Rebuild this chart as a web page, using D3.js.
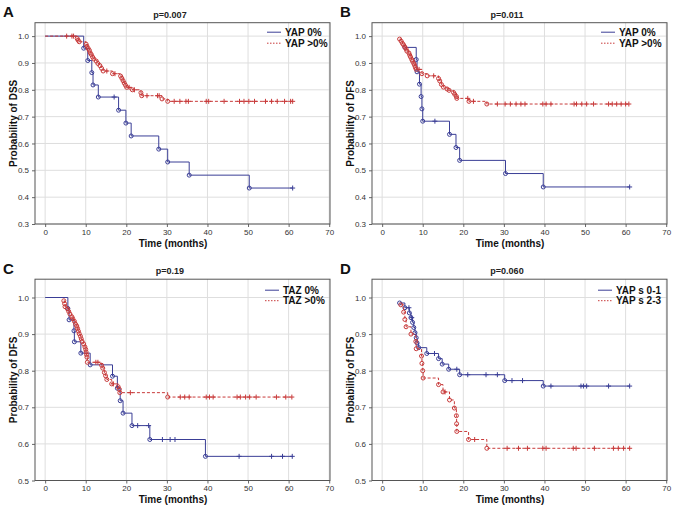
<!DOCTYPE html>
<html><head><meta charset="utf-8">
<script src="https://cdn.jsdelivr.net/npm/d3@7"></script>
<style>body{margin:0;background:#fff} svg{display:block;font-family:"Liberation Sans",Arial,sans-serif}</style>
</head><body><svg width="677" height="509"></svg>
<script>
const BLUE = "#3a3e96", RED = "#c83a3a";
const xTicks = [0,10,20,30,40,50,60,70];
const yTicksTop = [0.3,0.4,0.5,0.6,0.7,0.8,0.9,1.0];
const yTicksBottom = [0.5,0.6,0.7,0.8,0.9,1.0];

// Panel A (DSS, YAP)
const aBlueT = [9.5,10.5,11.5,11.8,13.1,18.1,19.9,21.2,28.0,30.2,35.5,50.3];
const aBlueV = [0.955,0.909,0.864,0.818,0.773,0.724,0.676,0.628,0.579,0.531,0.482,0.434];
const aBlueC = [17.0,61.0];
const aRedT = [7.9,8.1,8.4,10.1,10.3,10.6,10.9,11.1,11.4,11.7,12.0,12.6,13.0,13.5,13.9,14.3,16.6,18.6,18.9,19.2,19.5,19.8,20.1,21.5,23.6,23.8,28.8,30.2];
const aRedV = [0.991,0.985,0.979,0.970,0.962,0.954,0.947,0.938,0.931,0.922,0.915,0.907,0.898,0.890,0.880,0.870,0.860,0.851,0.843,0.834,0.825,0.817,0.809,0.800,0.789,0.778,0.766,0.757];
const aRedC = [5.3,6.6,7.0,15.2,17.2,20.7,22.0,25.1,27.7,28.1,31.8,33.2,34.7,35.3,39.7,40.3,44.1,47.9,49.0,50.2,51.6,54.3,55.8,57.2,59.0,60.5,61.0];

// Panel B (DFS, YAP)
const bBlueT = [5.6,8.4,8.6,9.2,9.6,9.8,10.0,16.6,18.2,19.1,30.4,39.7];
const bBlueV = [0.958,0.913,0.867,0.821,0.775,0.729,0.683,0.634,0.585,0.537,0.488,0.438];
const bBlueC = [13.0,61.0];
const bRedT = [4.3,4.7,5.0,5.3,5.6,5.9,6.1,6.6,6.8,7.0,7.3,7.5,7.8,8.0,8.2,8.4,9.8,11.1,13.9,14.2,14.6,15.1,16.0,16.5,17.6,17.9,18.3,18.4,21.4,25.8];
const bRedV = [0.989,0.981,0.973,0.967,0.959,0.952,0.944,0.937,0.929,0.922,0.913,0.906,0.898,0.891,0.883,0.876,0.860,0.852,0.842,0.833,0.820,0.810,0.803,0.798,0.790,0.783,0.775,0.768,0.757,0.747];
const bRedC = [9.1,12.7,21.1,22.5,28.4,30.3,31.6,33.0,34.2,35.2,39.6,40.4,41.6,47.3,47.9,49.2,50.4,52.1,55.8,56.7,57.8,58.9,60.0,60.8];

// Panel C (DFS, TAZ)
const cBlueT = [5.6,5.9,7.1,7.2,8.8,11.1,16.6,17.8,18.5,19.2,21.4,25.8,39.5];
const cBlueV = [0.970,0.939,0.909,0.879,0.848,0.816,0.785,0.752,0.718,0.684,0.650,0.612,0.566];
const cBlueC = [22.8,25.5,28.9,30.8,32.0,47.8,55.8,58.5,60.9];
const cRedT = [4.6,4.8,4.9,5.5,5.8,6.1,6.6,6.8,7.2,7.5,7.8,8.0,8.2,8.4,8.7,8.9,9.1,9.5,9.8,10.0,10.1,10.2,10.3,10.4,13.9,14.2,14.6,14.9,15.2,16.4,18.0,18.3,18.4,30.2];
const cRedV = [0.991,0.983,0.975,0.969,0.962,0.955,0.947,0.942,0.935,0.927,0.922,0.915,0.908,0.901,0.894,0.887,0.880,0.873,0.865,0.858,0.851,0.844,0.837,0.823,0.815,0.807,0.795,0.786,0.776,0.764,0.756,0.749,0.740,0.728];
const cRedC = [12.5,13.0,16.8,21.0,33.3,34.4,35.5,39.7,40.5,41.4,47.3,48.1,49.4,50.4,52.0,57.0,59.3,60.8];

// Panel D (DFS, YAP score)
const dBlueT = [4.3,5.6,6.7,7.1,7.5,7.8,8.1,8.4,8.6,9.0,11.0,13.9,14.8,16.4,19.1,30.2,39.7];
const dBlueV = [0.985,0.972,0.958,0.945,0.932,0.918,0.904,0.890,0.876,0.863,0.847,0.833,0.818,0.804,0.789,0.773,0.758];
const dBlueC = [6.6,7.3,12.9,18.4,21.1,25.6,28.4,32.0,34.6,41.6,49.0,49.6,50.4,55.8,61.0];
const dRedT = [4.6,5.3,5.6,5.9,7.1,8.3,8.4,9.7,9.8,10.0,10.1,13.9,15.0,16.6,17.8,18.3,18.35,18.4,21.3,25.8];
const dRedV = [0.980,0.960,0.940,0.920,0.900,0.880,0.860,0.840,0.820,0.800,0.780,0.762,0.742,0.720,0.698,0.677,0.655,0.634,0.612,0.588];
const dRedC = [15.5,22.8,30.8,33.6,35.8,39.6,40.4,47.1,47.8,52.3,57.0,58.2,59.5,61.0];

const panels = [
  {letter:"A", ox:0, oy:0, title:"p=0.007", ylabel:"Probability of DSS", yDomain:[0.3,1.05], yTicks:yTicksTop, legX:285, legY:[9.5,20.5],
   series:[{name:"YAP 0%", color:BLUE, dash:null, legDash:null, start:[0,1], t:aBlueT, v:aBlueV, c:aBlueC},
           {name:"YAP >0%", color:RED, dash:"3,2", legDash:"1.5,1.5", start:[0,1], t:aRedT, v:aRedV, c:aRedC}]},
  {letter:"B", ox:337, oy:0, title:"p=0.011", ylabel:"Probability of DFS", yDomain:[0.3,1.05], yTicks:yTicksTop, legX:282, legY:[9.5,20.5],
   series:[{name:"YAP 0%", color:BLUE, dash:null, legDash:null, start:null, t:bBlueT, v:bBlueV, c:bBlueC},
           {name:"YAP >0%", color:RED, dash:"3,2", legDash:"1.5,1.5", start:null, t:bRedT, v:bRedV, c:bRedC}]},
  {letter:"C", ox:0, oy:256.5, title:"p=0.19", ylabel:"Probability of DFS", yDomain:[0.5,1.05], yTicks:yTicksBottom, legX:283, legY:[11,21.5],
   series:[{name:"TAZ 0%", color:BLUE, dash:null, legDash:null, start:[0,1], t:cBlueT, v:cBlueV, c:cBlueC},
           {name:"TAZ >0%", color:RED, dash:"3,2", legDash:"1.5,1.5", start:null, t:cRedT, v:cRedV, c:cRedC}]},
  {letter:"D", ox:337, oy:256.5, title:"p=0.060", ylabel:"Probability of DFS", yDomain:[0.5,1.05], yTicks:yTicksBottom, legX:279, legY:[11,21.5],
   series:[{name:"YAP s 0-1", color:BLUE, dash:null, legDash:null, start:null, t:dBlueT, v:dBlueV, c:dBlueC},
           {name:"YAP s 2-3", color:RED, dash:"3,2", legDash:"1.5,1.5", start:null, t:dRedT, v:dRedV, c:dRedC}]}
];

const svg = d3.select("svg");
const L = 35, R = 330, T = 22.7, B = 224;

panels.forEach(p => {
  const g = svg.append("g").attr("transform", `translate(${p.ox},${p.oy})`);
  const x = d3.scaleLinear().domain([-2.5, 70.2]).range([L, R]);
  const y = d3.scaleLinear().domain(p.yDomain).range([B, T]);

  // grid
  g.append("g").selectAll("line").data(xTicks).join("line")
    .attr("x1", d => x(d)).attr("x2", d => x(d)).attr("y1", T).attr("y2", B)
    .attr("stroke", "#dedede").attr("stroke-width", 1);
  g.append("g").selectAll("line").data(p.yTicks).join("line")
    .attr("x1", L).attr("x2", R).attr("y1", d => y(d)).attr("y2", d => y(d))
    .attr("stroke", "#dedede").attr("stroke-width", 1);

  // axes
  const xa = g.append("g").attr("transform", `translate(0,${B})`)
    .call(d3.axisBottom(x).tickValues(xTicks).tickSize(3).tickPadding(2).tickFormat(d3.format("d")));
  const ya = g.append("g").attr("transform", `translate(${L},0)`)
    .call(d3.axisLeft(y).tickValues(p.yTicks).tickSize(3).tickFormat(d3.format(".1f")));
  [xa, ya].forEach(a => {
    a.select(".domain").remove();
    a.selectAll(".tick line").attr("stroke", "#666");
    a.selectAll("text").attr("font-size", 8).attr("fill", "#333")
      .attr("font-family", '"Liberation Sans",Arial,sans-serif');
  });

  // frame
  g.append("rect").attr("x", L).attr("y", T).attr("width", R - L).attr("height", B - T)
    .attr("fill", "none").attr("stroke", "#555").attr("stroke-width", 1);

  // series
  p.series.forEach(s => {
    const ev = s.t.map((t, i) => [t, s.v[i]]);
    const lastT = Math.max(d3.max(s.t), d3.max(s.c));
    const pts = (s.start ? [s.start] : []).concat(ev);
    pts.push([lastT, ev[ev.length - 1][1]]);
    const line = d3.line().x(d => x(d[0])).y(d => y(d[1])).curve(d3.curveStepAfter);
    g.append("path").attr("d", line(pts)).attr("fill", "none")
      .attr("stroke", s.color).attr("stroke-width", 1)
      .attr("stroke-dasharray", s.dash);
    g.append("g").selectAll("circle").data(ev).join("circle")
      .attr("cx", d => x(d[0])).attr("cy", d => y(d[1])).attr("r", 2)
      .attr("fill", "none").attr("stroke", s.color).attr("stroke-width", 1);
    const valAt = t => {
      let v = s.start ? s.start[1] : ev[0][1];
      ev.forEach(e => { if (e[0] <= t) v = e[1]; });
      return v;
    };
    const cens = s.c.map(t => [t, valAt(t)]);
    const cg = g.append("g").attr("stroke", s.color).attr("stroke-width", 1);
    cg.selectAll("line.v").data(cens).join("line").attr("class", "v")
      .attr("x1", d => x(d[0])).attr("x2", d => x(d[0]))
      .attr("y1", d => y(d[1]) - 2.5).attr("y2", d => y(d[1]) + 2.5);
    cg.selectAll("line.h").data(cens).join("line").attr("class", "h")
      .attr("x1", d => x(d[0]) - 2.5).attr("x2", d => x(d[0]) + 2.5)
      .attr("y1", d => y(d[1])).attr("y2", d => y(d[1]));
  });

  // legend
  p.series.forEach((s, i) => {
    const ly = T + p.legY[i];
    g.append("line").attr("x1", p.legX - 18).attr("x2", p.legX - 4)
      .attr("y1", ly).attr("y2", ly).attr("stroke", s.color).attr("stroke-width", 1)
      .attr("stroke-dasharray", s.legDash);
    g.append("text").attr("x", p.legX).attr("y", ly + 3.6).text(s.name)
      .attr("font-size", 10).attr("font-weight", "bold").attr("fill", "#111");
  });

  // titles and labels
  g.append("text").attr("x", 170).attr("y", T - 5).attr("text-anchor", "middle")
    .attr("font-size", 9).attr("font-weight", "bold").attr("fill", "#222").text(p.title);
  g.append("text").attr("x", 173).attr("y", B + 22.5).attr("text-anchor", "middle")
    .attr("font-size", 10).attr("font-weight", "bold").attr("fill", "#111").text("Time (months)");
  g.append("text").attr("transform", `translate(16.5,${(T + B) / 2}) rotate(-90)`)
    .attr("text-anchor", "middle").attr("font-size", 10).attr("font-weight", "bold")
    .attr("fill", "#111").text(p.ylabel);
  g.append("text").attr("x", 3).attr("y", 17).attr("font-size", 15).attr("font-weight", "bold")
    .attr("fill", "#111").text(p.letter);
});
</script></body></html>
